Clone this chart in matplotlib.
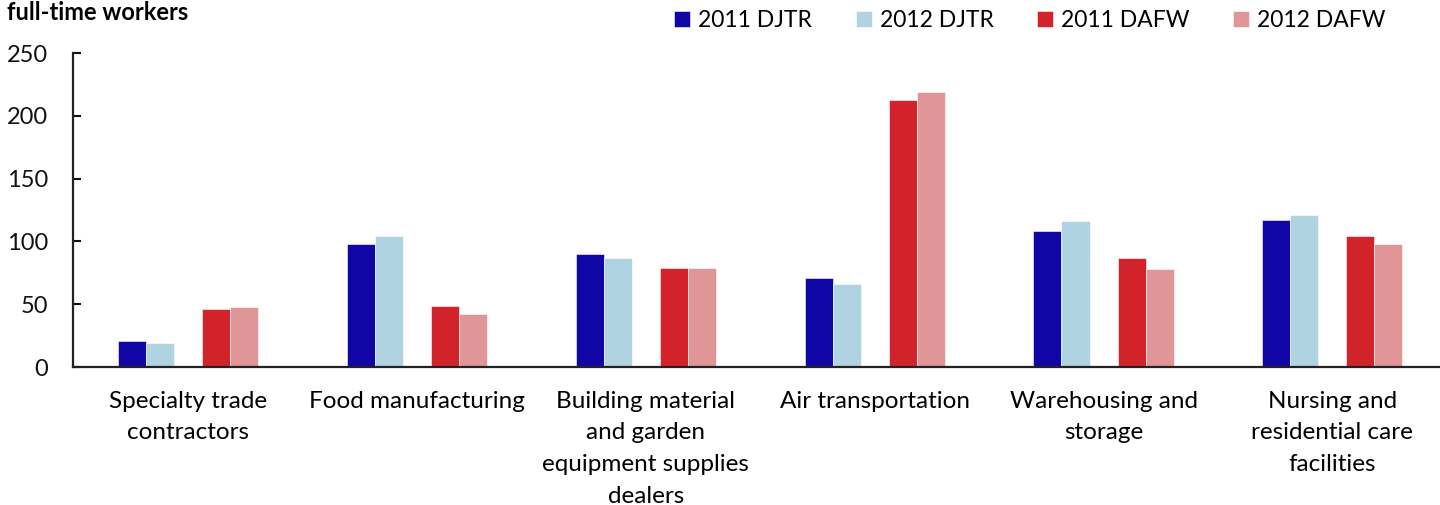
import numpy as np
import matplotlib
matplotlib.use('Agg')
import matplotlib.pyplot as plt

plt.rcParams['font.family'] = ['Lato', 'DejaVu Sans']

categories = ['Specialty trade\ncontractors', 'Food manufacturing',
              'Building material\nand garden\nequipment supplies\ndealers',
              'Air transportation', 'Warehousing and\nstorage',
              'Nursing and\nresidential care\nfacilities']
series_names = ['2011 DJTR', '2012 DJTR', '2011 DAFW', '2012 DAFW']
djtr_2011 = [21, 98, 90, 71, 108, 117]
djtr_2012 = [19.5, 104, 86.5, 66.5, 116, 121]
dafw_2011 = [46.5, 49, 79, 212.5, 87, 104]
dafw_2012 = [48, 42.5, 79, 219, 78.5, 98]
colors = ['#1006a6', '#afd3e1', '#d2232a', '#e09697']

fig = plt.figure(figsize=(14.4, 5.05), dpi=100)
ax = fig.add_axes([0.051, 0.273, 0.949, 0.622])

x = np.arange(len(categories))
w = 0.1224
offsets = [-2 * w, -w, w, 2 * w]
for vals, off, col, name in zip([djtr_2011, djtr_2012, dafw_2011, dafw_2012],
                                offsets, colors, series_names):
    ax.bar(x + off, vals, width=w, color=col, label=name,
           edgecolor='white', linewidth=0.4)

ax.set_xlim(-0.5, 5.47)
ax.set_ylim(0, 250)
ax.set_yticks([0, 50, 100, 150, 200, 250])
ax.set_xticks(x)
ax.set_xticklabels(categories, fontsize=17.5, linespacing=1.63, va='top')
ax.tick_params(axis='x', length=0, pad=17)
ax.tick_params(axis='y', direction='in', length=6, width=1.5, pad=18,
               labelsize=17, colors='#111111')
for s in ['top', 'right']:
    ax.spines[s].set_visible(False)
for s in ['left', 'bottom']:
    ax.spines[s].set_linewidth(1.6)
    ax.spines[s].set_color('#222222')

# top of the title sits at the very edge, as in the source
fig.text(0.005, 0.96, 'full-time workers', fontsize=17, fontweight='bold',
         va='baseline', ha='left')

ax.legend(loc='center', bbox_to_anchor=(0.70, 1.105), ncol=4, frameon=False,
          fontsize=16.5, handlelength=0.7, handleheight=0.7,
          handletextpad=0.35, columnspacing=1.9, borderaxespad=0)

fig.savefig('out.png', dpi=100)
